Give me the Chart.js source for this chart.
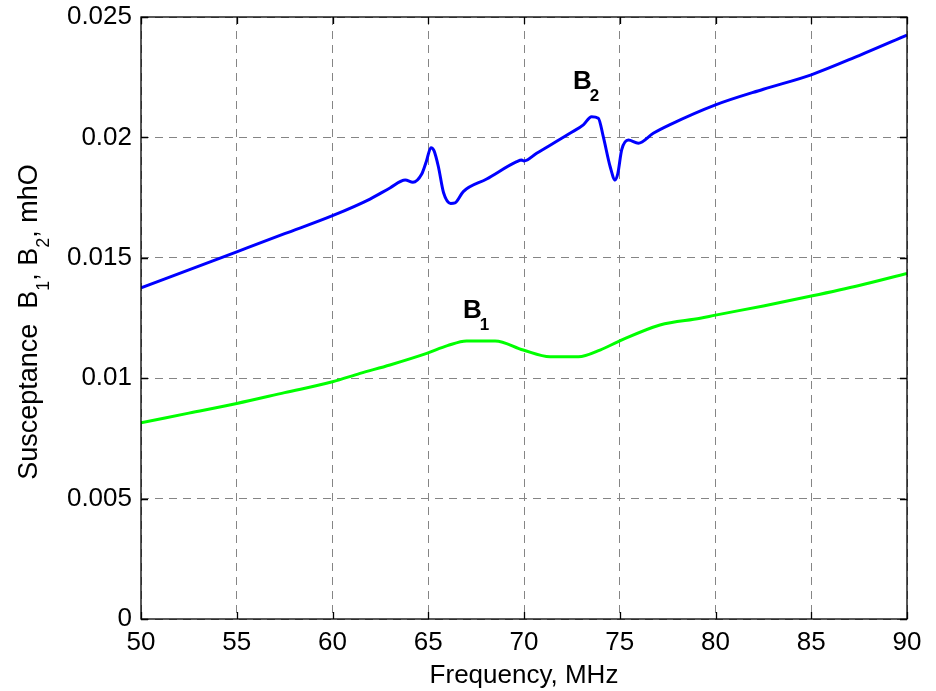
<!DOCTYPE html>
<html>
<head>
<meta charset="utf-8">
<script src="https://cdn.jsdelivr.net/npm/chart.js@4.4.1/dist/chart.umd.min.js"></script>
<style>
  html, body { margin: 0; padding: 0; background: #fff; }
  #wrap { width: 936px; height: 691px; }
</style>
</head>
<body>
<div id="wrap"><canvas id="c" width="936" height="691"></canvas></div>
<script>
// Frequency sweep (MHz) and susceptance (mhO) of the two branches
const freqB2 = [50, 52.5, 55, 57.5, 60, 61.96, 63.0, 63.8, 64.2, 64.66, 64.9, 65.14, 65.3, 65.53, 65.8, 66.17, 66.4, 66.83, 68.05, 69.62, 69.88, 70.0, 70.66, 72.4, 73.1, 73.53, 73.88, 74.14, 74.5, 74.76, 74.9, 75.1, 75.45, 75.97, 76.75, 77.6, 80, 82.5, 85, 87.5, 90];
const valuesB2 = [0.01375, 0.01450, 0.01525, 0.01600, 0.01675, 0.01744, 0.01790, 0.01823, 0.01814, 0.01848, 0.01900, 0.01957, 0.01945, 0.01878, 0.01770, 0.01726, 0.01728, 0.01775, 0.01827, 0.01899, 0.01906, 0.01902, 0.01934, 0.02017, 0.02052, 0.02086, 0.02080, 0.02003, 0.01878, 0.01823, 0.01850, 0.01948, 0.01989, 0.01976, 0.02017, 0.02052, 0.02135, 0.02200, 0.02260, 0.02340, 0.02425];

const freqB1 = [50, 52.5, 55, 57.5, 60, 61.44, 63, 64.92, 66, 67, 68.49, 69.96, 71.36, 72.84, 74, 74.92, 77.1, 79.2, 80, 82.5, 85, 87.5, 90];
const valuesB1 = [0.00815, 0.00855, 0.00895, 0.00940, 0.00985, 0.01020, 0.01055, 0.01103, 0.01135, 0.01155, 0.01155, 0.01117, 0.01089, 0.01089, 0.01118, 0.01152, 0.01221, 0.01249, 0.01262, 0.01300, 0.01341, 0.01385, 0.01435];

const xTicks = [50, 55, 60, 65, 70, 75, 80, 85, 90];
const yTicks = [0, 0.005, 0.01, 0.015, 0.02, 0.025];

// Curve labels: [letter, subscript, frequency, susceptance]
const curveLabels = [
  ['B', '1', 67.34, 0.01286],
  ['B', '2', 73.08, 0.02239]
];

const FONT = '"Liberation Sans", Arial, sans-serif';
const SIZE = 26;

const toPts = (xs, ys) => xs.map((x, i) => ({ x: x, y: ys[i] }));

// Writes a run of text pieces, some of them lowered and smaller as subscripts
function subText(ctx, parts, x, y, size, bold, subShift) {
  let cx = x;
  parts.forEach(p => {
    const s = p.sub ? Math.round(size * 0.66) : size;
    ctx.font = (bold ? 'bold ' : '') + s + 'px ' + FONT;
    ctx.fillText(p.t, cx + (p.sub ? subShift : 0), y + (p.sub ? size * 0.46 : 0));
    cx += ctx.measureText(p.t).width + (p.sub ? subShift : 0);
  });
}
function measureParts(ctx, parts, size, bold) {
  let w = 0;
  parts.forEach(p => {
    const s = p.sub ? Math.round(size * 0.66) : size;
    ctx.font = (bold ? 'bold ' : '') + s + 'px ' + FONT;
    w += ctx.measureText(p.t).width;
  });
  return w;
}

const decorations = {
  id: 'decorations',
  afterDatasetsDraw(chart) {
    const ctx = chart.ctx;
    const a = chart.chartArea;
    const xs = chart.scales.x, ys = chart.scales.y;
    ctx.save();
    // axes box
    ctx.strokeStyle = '#000';
    ctx.lineWidth = 1.3;
    ctx.setLineDash([]);
    ctx.strokeRect(a.left, a.top, a.right - a.left, a.bottom - a.top);

    // inward tick marks on all four sides
    const tl = 7;
    ctx.beginPath();
    xTicks.forEach(v => {
      const px = Math.round(xs.getPixelForValue(v)) + 0.5;
      ctx.moveTo(px, a.bottom); ctx.lineTo(px, a.bottom - tl);
      ctx.moveTo(px, a.top); ctx.lineTo(px, a.top + tl);
    });
    yTicks.forEach(v => {
      const py = Math.round(ys.getPixelForValue(v)) + 0.5;
      ctx.moveTo(a.left, py); ctx.lineTo(a.left + tl, py);
      ctx.moveTo(a.right, py); ctx.lineTo(a.right - tl, py);
    });
    ctx.stroke();

    // curve labels
    ctx.fillStyle = '#000';
    ctx.textBaseline = 'alphabetic';
    ctx.textAlign = 'left';
    curveLabels.forEach(l => {
      const px = xs.getPixelForValue(l[2]);
      const py = ys.getPixelForValue(l[3]);
      subText(ctx, [{ t: l[0] }, { t: l[1], sub: true }], px - 10, py + 9, SIZE, true, -2);
    });

    // y axis title with subscripts
    const parts = [
      { t: 'Susceptance  B' }, { t: '1', sub: true }, { t: ', B' }, { t: '2', sub: true }, { t: ', mhO' }
    ];
    const w = measureParts(ctx, parts, 27, false);
    ctx.translate(37, 322);
    ctx.rotate(-Math.PI / 2);
    subText(ctx, parts, -w / 2, 0, 27, false, 0);
    ctx.restore();
  }
};

new Chart(document.getElementById('c'), {
  type: 'line',
  data: {
    datasets: [
      {
        label: 'B2',
        data: toPts(freqB2, valuesB2),
        borderColor: '#0000ff',
        borderWidth: 3,
        pointRadius: 0,
        cubicInterpolationMode: 'monotone',
        fill: false
      },
      {
        label: 'B1',
        data: toPts(freqB1, valuesB1),
        borderColor: '#00ff00',
        borderWidth: 3,
        pointRadius: 0,
        cubicInterpolationMode: 'monotone',
        fill: false
      }
    ]
  },
  options: {
    responsive: false,
    animation: false,
    devicePixelRatio: 1,
    layout: { padding: { left: 0, right: 29, top: 17, bottom: 0 } },
    plugins: { legend: { display: false }, tooltip: { enabled: false } },
    scales: {
      x: {
        type: 'linear',
        min: 50, max: 90,
        afterBuildTicks: s => { s.ticks = xTicks.map(v => ({ value: v })); },
        afterFit: s => { s.height = 72; s.paddingLeft = 0; s.paddingRight = 0; },
        grid: { color: '#858585', lineWidth: 1, drawTicks: false },
        border: { display: false, dash: [8, 6] },
        ticks: {
          color: '#000', padding: 8,
          font: { family: FONT, size: SIZE },
          callback: v => String(v)
        },
        title: {
          display: true, text: 'Frequency, MHz', color: '#000',
          font: { family: FONT, size: SIZE }, padding: { top: 0, bottom: 0 }
        }
      },
      y: {
        type: 'linear',
        min: 0, max: 0.025,
        afterBuildTicks: s => { s.ticks = yTicks.map(v => ({ value: v })); },
        afterFit: s => { s.width = 141; s.paddingTop = 0; s.paddingBottom = 0; },
        grid: { color: '#858585', lineWidth: 1, drawTicks: false },
        border: { display: false, dash: [8, 6] },
        ticks: {
          color: '#000', padding: 9,
          font: { family: FONT, size: SIZE },
          callback: v => String(Number(v.toFixed(3)))
        }
      }
    }
  },
  plugins: [decorations]
});
</script>
</body>
</html>
